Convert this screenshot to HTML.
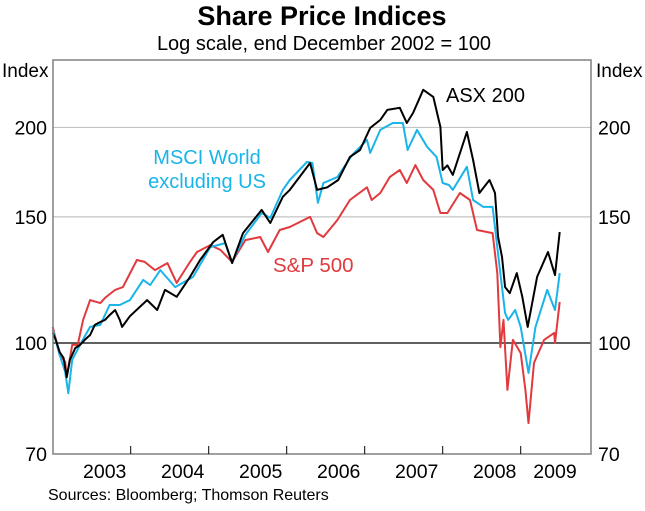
<!DOCTYPE html>
<html><head><meta charset="utf-8"><style>
body{margin:0;background:#fff;}
svg text{font-family:"Liberation Sans",Arial,sans-serif;}
</style></head><body>
<svg id="chart" width="645" height="506" viewBox="0 0 645 506">
<text x="322" y="25" text-anchor="middle" font-size="27" font-weight="bold">Share Price Indices</text>
<text x="324" y="50" text-anchor="middle" font-size="20">Log scale, end December 2002 = 100</text>
<text x="2" y="77" font-size="19">Index</text>
<text x="596" y="77" font-size="19">Index</text>
<g id="grid"></g>
<g id="series"></g>
<rect x="53" y="60" width="538" height="394" fill="none" stroke="#808080" stroke-width="1.5"/>
<g id="axes"></g>
<text x="446" y="102" font-size="20" fill="#000">ASX 200</text>
<text x="207" y="164" text-anchor="middle" font-size="20" fill="#1ab4e8">MSCI World</text>
<text x="207" y="188" text-anchor="middle" font-size="20" fill="#1ab4e8">excluding US</text>
<text x="273" y="272" font-size="20.5" fill="#e03a3e">S&amp;P 500</text>
<text x="48" y="500" font-size="16">Sources: Bloomberg; Thomson Reuters</text>
</svg>
<script>
const yTicks=[70,100,150,200];
const yearLabels=["2003","2004","2005","2006","2007","2008","2009"];
const asxT=[0,0.04,0.09,0.14,0.18,0.22,0.29,0.35,0.41,0.48,0.54,0.61,0.67,0.73,0.80,0.86,0.89,0.99,1.21,1.34,1.44,1.59,1.76,1.89,2.06,2.18,2.30,2.44,2.68,2.79,2.95,3.04,3.30,3.39,3.52,3.66,3.81,3.94,4.07,4.20,4.29,4.45,4.54,4.62,4.75,4.88,4.97,5.00,5.06,5.13,5.31,5.39,5.47,5.60,5.67,5.71,5.76,5.80,5.86,5.95,6.02,6.09,6.21,6.35,6.44,6.50];
const asxV=[103.3,101,97.1,95.3,89.6,94.7,98.4,99.4,101,102.6,106,107,107.7,109.4,111.2,107.7,105.3,109,114.8,111.2,118.6,116,123.7,130.6,138.4,141.6,129.3,142.4,153.4,147.1,160,163.6,178.4,163.6,165,168.9,181.9,186,199.7,204.9,211.6,213,202.9,209.6,225.7,220.6,200.3,174.4,177,171.7,197.1,180.1,162,168.9,162,140.6,131.9,119.7,117.4,125.2,116,105.3,123.7,134,124.4,142.9];
const msciT=[0,0.09,0.16,0.20,0.25,0.35,0.48,0.61,0.73,0.86,0.99,1.16,1.25,1.38,1.57,1.80,2.02,2.21,2.30,2.47,2.68,2.79,2.95,3.04,3.26,3.33,3.40,3.47,3.65,3.84,4.03,4.07,4.20,4.36,4.49,4.55,4.67,4.80,4.92,5.00,5.08,5.13,5.31,5.39,5.52,5.64,5.70,5.76,5.80,5.84,5.93,6.00,6.10,6.19,6.34,6.44,6.50];
const msciV=[104.3,96.2,91.1,85.1,94.7,99.4,105.3,106,113,113,114.8,122.5,120.5,126.4,119.7,123.7,136.1,137.9,129.8,141.6,151.9,149.5,163.6,168.9,179,178.4,156.9,167.3,170.5,183.1,192.1,184.3,198.4,202.9,202.9,186,198.4,187.9,181.9,167.3,166.2,163.6,176.2,158.4,154.9,154.9,136.1,119.7,110.1,107.7,111.2,105.3,90.8,105.3,118.6,111.2,125.2];
const spT=[0,0.09,0.16,0.18,0.25,0.32,0.39,0.48,0.61,0.67,0.80,0.90,1.08,1.18,1.31,1.47,1.59,1.76,1.85,2.02,2.15,2.30,2.47,2.66,2.76,2.91,3.04,3.30,3.39,3.47,3.65,3.81,4.03,4.09,4.20,4.32,4.45,4.54,4.65,4.75,4.88,4.97,5.06,5.22,5.35,5.44,5.64,5.70,5.74,5.78,5.83,5.90,6.00,6.06,6.10,6.17,6.30,6.43,6.44,6.50];
const spV=[105.3,96.2,94.1,89.6,99.4,99.4,107.7,114.8,113.7,115.6,118.6,119.7,130.6,129.8,126.4,129.3,121.3,129.8,134,137,134.9,129.8,139.2,140.6,134,143.8,145.2,150,142.4,140.6,148.5,158.4,165,158.4,162,170.5,174.4,167.3,177.2,168.9,163.6,151.9,151.9,162,158.4,143.8,142.4,125.2,98.7,107.7,86,101,96.8,86,77.3,93.8,101,103.3,100,114.1];

const NS='http://www.w3.org/2000/svg';
const X=t=>52.7+t*78;
const Y=v=>343-311*Math.log(v/100);
function mk(tag,attrs,parent){const e=document.createElementNS(NS,tag);for(const k in attrs)e.setAttribute(k,attrs[k]);parent.appendChild(e);return e;}
const grid=document.getElementById('grid'),axes=document.getElementById('axes'),ser=document.getElementById('series');
yTicks.forEach(v=>{
  const y=Y(v);
  if(v>70){
    const l=mk('line',{x1:53,x2:591,y1:y,y2:y,stroke:v===100?'#000':'#c4c4c4','stroke-width':1.2},grid);
    
    
  }
  const a=mk('text',{x:47,y:y+7,'text-anchor':'end','font-size':19.5},axes);a.textContent=v;
  
  
  const b=mk('text',{x:598,y:y+7,'font-size':19.5},axes);b.textContent=v;
  
  
});
yearLabels.forEach((yr,i)=>{
  if(i>0){const t=mk('line',{x1:X(i),x2:X(i),y1:454,y2:446,stroke:'#000','stroke-width':1},axes);
    
    }
  const cx=i===6?555:X(i+0.5)+13;
  const tx=mk('text',{x:cx,y:478,'text-anchor':'middle','font-size':19.5},axes);tx.textContent=yr;
  
  
});
function line(ts,vs,color,name){
  const d=ts.map((t,i)=>(i?'L':'M')+X(t).toFixed(1)+','+Y(vs[i]).toFixed(1)).join('');
  const p=mk('path',{d:d,fill:'none',stroke:color,'stroke-width':2,'stroke-linejoin':'round'},ser);
  
  
}
line(spT,spV,'#e03a3e','sp500-line');
line(msciT,msciV,'#1ab4e8','msci-world-ex-us-line');
line(asxT,asxV,'#000000','asx200-line');
</script>
</body></html>
